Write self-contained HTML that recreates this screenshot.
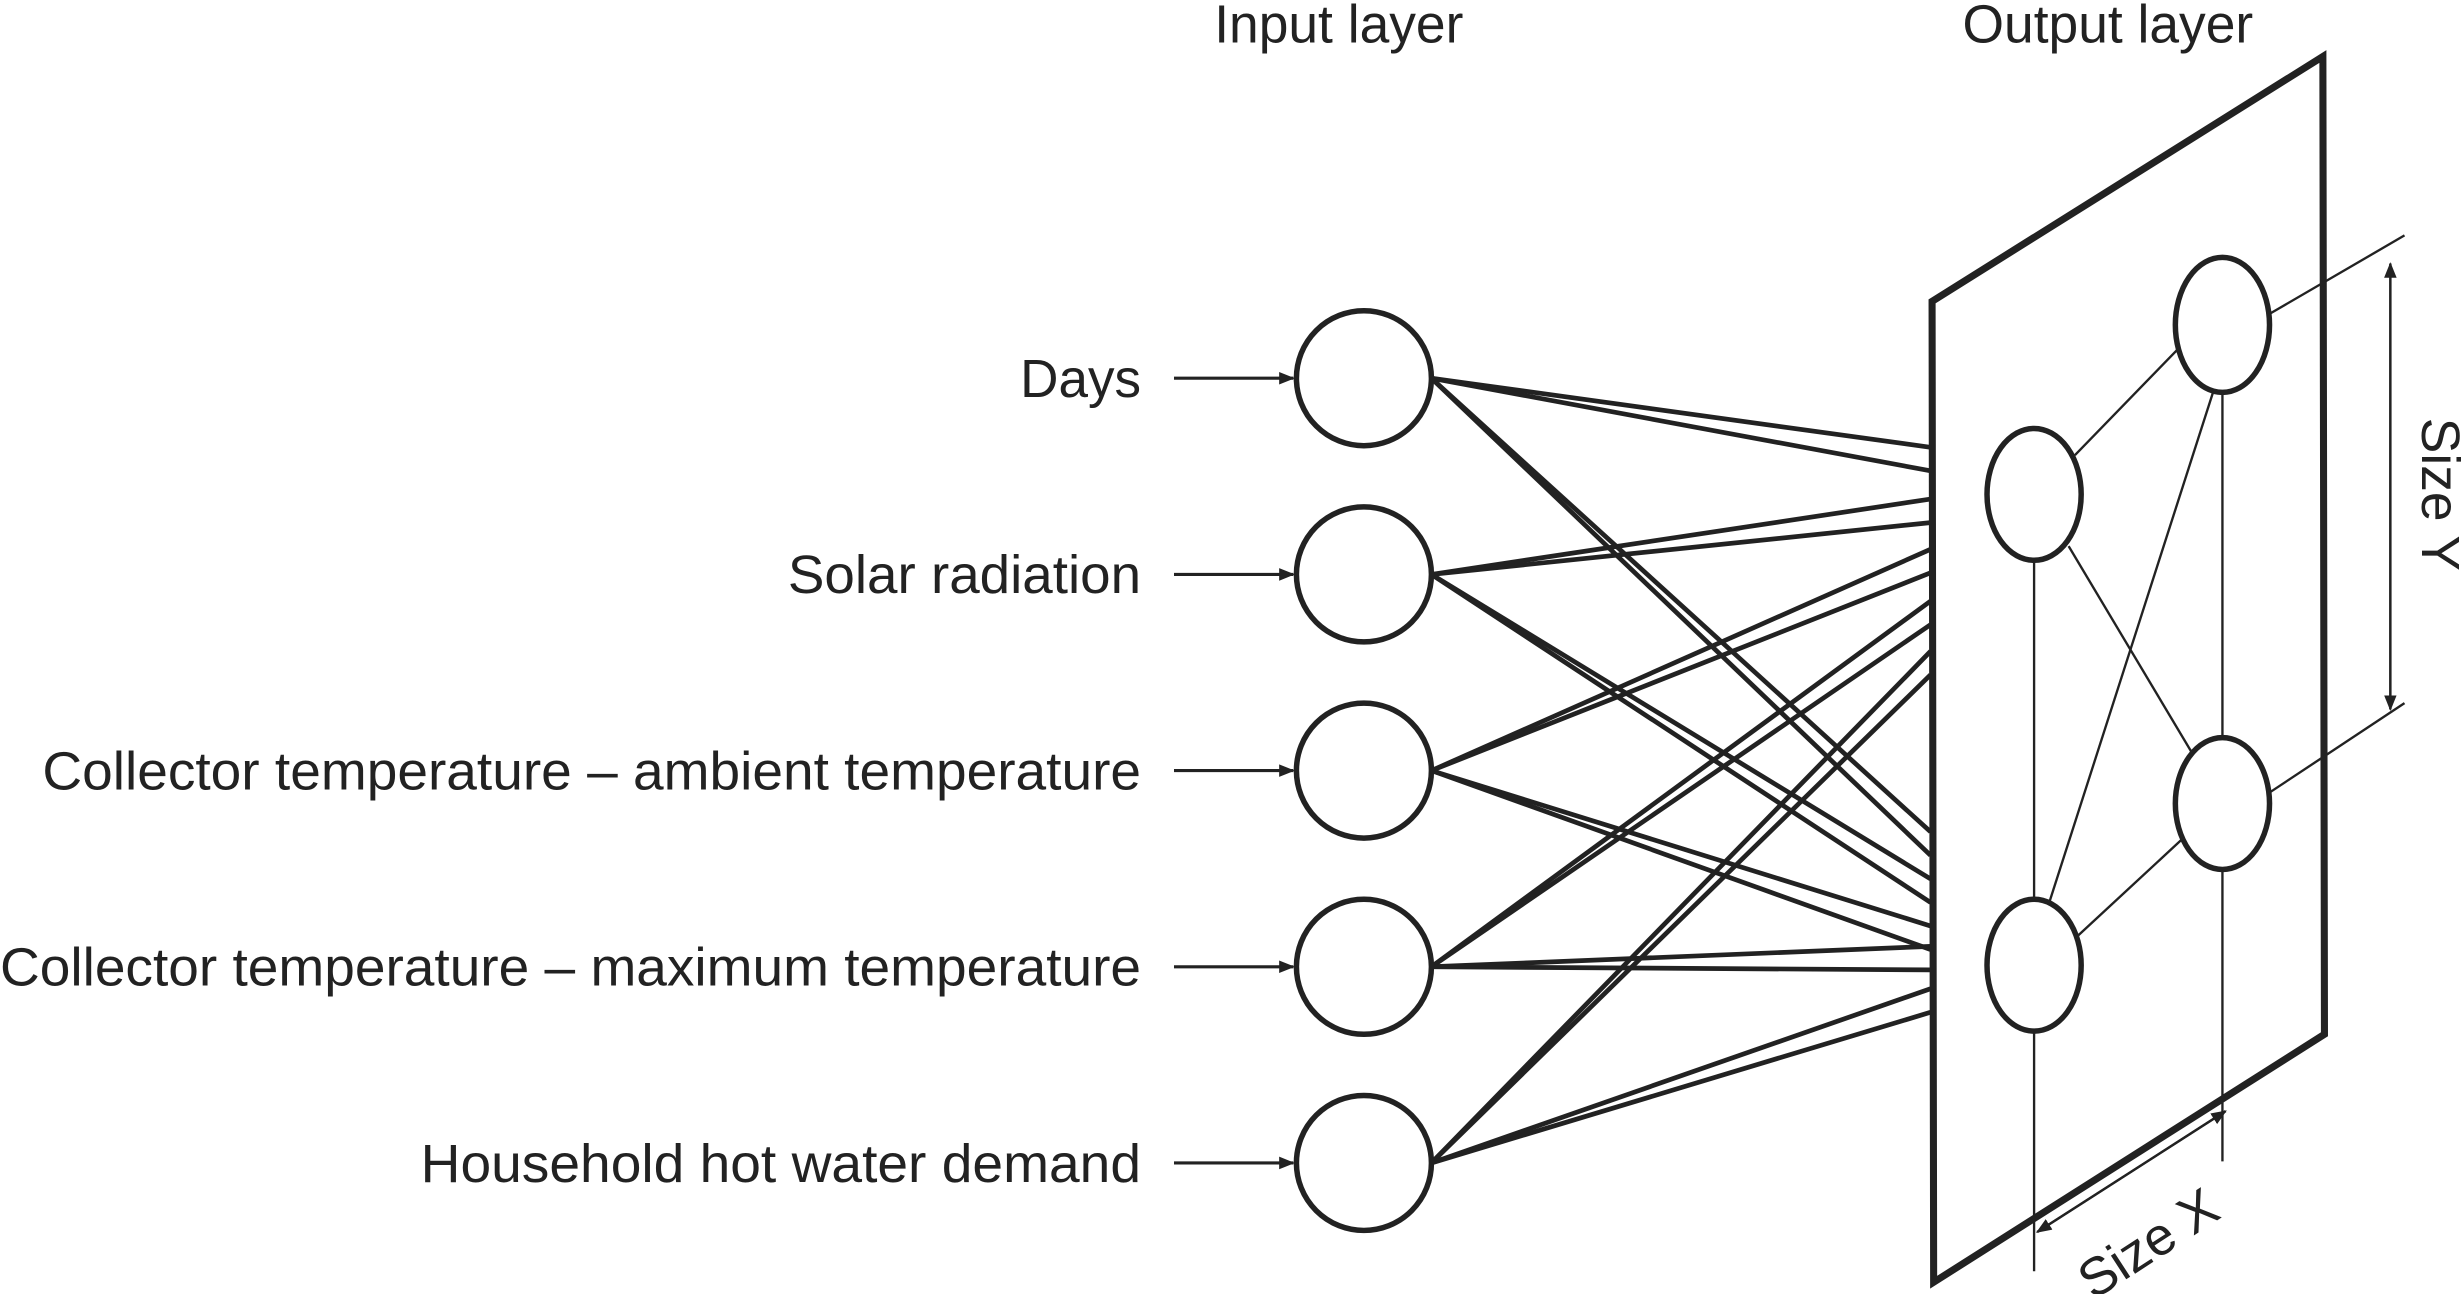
<!DOCTYPE html>
<html><head><meta charset="utf-8"><style>
html,body{margin:0;padding:0;background:#fff;}
svg{display:block;}
text{font-family:"Liberation Sans",Arial,sans-serif;fill:#222;}
</style></head><body>
<svg width="2461" height="1294" viewBox="0 0 1568 824.5" preserveAspectRatio="none" xmlns="http://www.w3.org/2000/svg">
<defs>
<marker id="ar" markerWidth="10" markerHeight="10" refX="9" refY="5" orient="auto" markerUnits="userSpaceOnUse">
<path d="M0,1 L10,5 L0,9 Z" fill="#222"/></marker>
</defs>
<text x="853" y="27" font-size="34" text-anchor="middle">Input layer</text>
<text x="1343" y="27" font-size="34" text-anchor="middle">Output layer</text>
<g font-size="34">
<text x="650" y="253" textLength="77" lengthAdjust="spacingAndGlyphs">Days</text>
<text x="502" y="378" textLength="225" lengthAdjust="spacingAndGlyphs">Solar radiation</text>
<text x="27" y="503" textLength="700" lengthAdjust="spacingAndGlyphs">Collector temperature – ambient temperature</text>
<text x="0" y="628" textLength="727" lengthAdjust="spacingAndGlyphs">Collector temperature – maximum temperature</text>
<text x="268" y="753" textLength="459" lengthAdjust="spacingAndGlyphs">Household hot water demand</text>
</g>
<g stroke="#222" stroke-width="2">
<line x1="748" y1="241" x2="824" y2="241" marker-end="url(#ar)"/>
<line x1="748" y1="366" x2="824" y2="366" marker-end="url(#ar)"/>
<line x1="748" y1="491" x2="824" y2="491" marker-end="url(#ar)"/>
<line x1="748" y1="616" x2="824" y2="616" marker-end="url(#ar)"/>
<line x1="748" y1="741" x2="824" y2="741" marker-end="url(#ar)"/>
</g>
<g stroke="#222" stroke-width="3">
<line x1="912" y1="241" x2="1230" y2="285"/><line x1="912" y1="241" x2="1230" y2="300"/>
<line x1="912" y1="241" x2="1230" y2="530"/><line x1="912" y1="241" x2="1230" y2="545"/>
<line x1="912" y1="366" x2="1230" y2="318"/><line x1="912" y1="366" x2="1230" y2="333"/>
<line x1="912" y1="366" x2="1230" y2="560"/><line x1="912" y1="366" x2="1230" y2="575"/>
<line x1="912" y1="491" x2="1230" y2="350"/><line x1="912" y1="491" x2="1230" y2="365"/>
<line x1="912" y1="491" x2="1230" y2="590"/><line x1="912" y1="491" x2="1230" y2="605"/>
<line x1="912" y1="616" x2="1230" y2="383"/><line x1="912" y1="616" x2="1230" y2="398"/>
<line x1="912" y1="616" x2="1230" y2="603"/><line x1="912" y1="616" x2="1230" y2="618"/>
<line x1="912" y1="741" x2="1230" y2="415"/><line x1="912" y1="741" x2="1230" y2="430"/>
<line x1="912" y1="741" x2="1230" y2="630"/><line x1="912" y1="741" x2="1230" y2="645"/>
</g>
<g stroke="#222" stroke-width="3.5" fill="#fff">
<circle cx="869" cy="241" r="43"/><circle cx="869" cy="366" r="43"/>
<circle cx="869" cy="491" r="43"/><circle cx="869" cy="616" r="43"/>
<circle cx="869" cy="741" r="43"/>
</g>
<path d="M1231,192 L1480,36 L1481,659 L1232,817 Z" fill="none" stroke="#222" stroke-width="4.5"/>
<g stroke="#222" stroke-width="1.5">
<line x1="1322" y1="290" x2="1390" y2="220"/>
<line x1="1318" y1="348" x2="1398" y2="482"/>
<line x1="1306" y1="574" x2="1410" y2="250"/>
<line x1="1322" y1="598" x2="1390" y2="535"/>
<line x1="1296" y1="357" x2="1296" y2="810"/>
<line x1="1416" y1="250" x2="1416" y2="470"/>
<line x1="1416" y1="554" x2="1416" y2="740"/>
<line x1="1446" y1="200" x2="1532" y2="150"/>
<line x1="1446" y1="505" x2="1532" y2="448"/>
<line x1="1523" y1="452" x2="1523" y2="168" marker-end="url(#ar)"/>
<line x1="1523" y1="168" x2="1523" y2="452" marker-end="url(#ar)"/>
<line x1="1298" y1="785" x2="1418" y2="708" marker-end="url(#ar)"/>
<line x1="1418" y1="708" x2="1298" y2="785" marker-end="url(#ar)"/>
</g>
<g stroke="#222" stroke-width="3.5" fill="#fff">
<ellipse cx="1296" cy="315" rx="30" ry="42"/>
<ellipse cx="1416" cy="207" rx="30" ry="43"/>
<ellipse cx="1416" cy="512" rx="30" ry="42"/>
<ellipse cx="1296" cy="615" rx="30" ry="42"/>
</g>
<text x="0" y="0" font-size="34" text-anchor="middle" transform="translate(1543,315) rotate(90)">Size Y</text>
<text x="0" y="0" font-size="34" text-anchor="middle" transform="translate(1375,802) rotate(-33)">Size X</text>
</svg>
</body></html>
